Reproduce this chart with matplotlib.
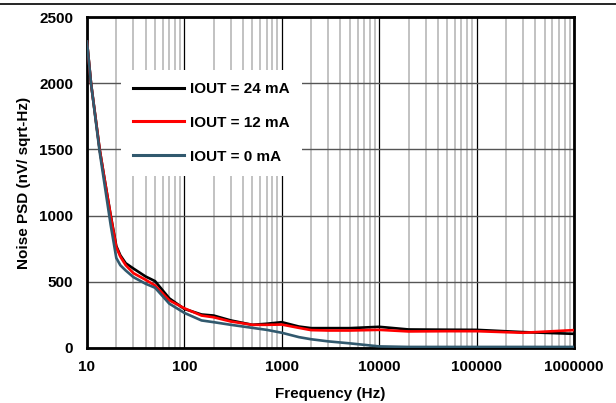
import matplotlib
matplotlib.use("Agg")
import matplotlib.pyplot as plt
from matplotlib.lines import Line2D
from matplotlib.ticker import FixedLocator, LogLocator, NullFormatter

plt.rcParams['font.family'] = ['Liberation Sans', 'DejaVu Sans']
plt.rcParams['font.weight'] = 'bold'

# frequency points (Hz) and noise PSD (nV/sqrt-Hz)
freq = [10, 11, 13.5, 15, 17.5, 20, 22, 25, 30, 40, 50, 70, 100, 150, 200, 300, 500, 700,
        1000, 1500, 2000, 3000, 5000, 10000, 20000, 50000, 100000, 300000, 1000000]
psd_24ma = [2315, 2000, 1500, 1295, 1005, 770, 700, 640, 600, 540, 505, 375, 295, 253, 245,
            208, 175, 183, 195, 162, 150, 150, 150, 160, 140, 138, 137, 120, 107]
psd_12ma = [2315, 2000, 1500, 1295, 1000, 760, 690, 625, 565, 515, 472, 360, 300, 245, 232,
            200, 175, 175, 177, 152, 135, 132, 132, 137, 125, 127, 127, 115, 135]
psd_0ma = [2315, 2000, 1480, 1257, 930, 680, 625, 585, 535, 485, 455, 335, 265, 208, 195,
           175, 152, 137, 115, 82, 66, 50, 35, 12, 8, 8, 8, 8, 8]

labels = ['IOUT = 24 mA', 'IOUT = 12 mA', 'IOUT = 0 mA']
colors = ['#000000', '#FF0000', '#31596E']
x_ticks = [10, 100, 1000, 10000, 100000, 1000000]
y_ticks = [0, 500, 1000, 1500, 2000, 2500]

fig = plt.figure(figsize=(6.16, 4.03), dpi=100)
ax = fig.add_axes([0.1412, 0.1365, 0.7906, 0.8213])

for y, lab, c in zip([psd_24ma, psd_12ma, psd_0ma], labels, colors):
    ax.plot(freq, y, color=c, lw=1.9, label=lab, zorder=3)

ax.set_xscale('log')
ax.set_xlim(10, 1000000)
ax.set_ylim(0, 2500)
ax.xaxis.set_major_locator(FixedLocator(x_ticks))
ax.set_xticklabels([str(t) for t in x_ticks])
ax.xaxis.set_minor_locator(LogLocator(base=10, subs=range(2, 10)))
ax.xaxis.set_minor_formatter(NullFormatter())
ax.set_yticks(y_ticks)

ax.grid(which='major', axis='x', color='black', lw=0.9)
ax.grid(which='minor', axis='x', color='#BDBDBD', lw=1.3)
ax.grid(which='major', axis='y', color='#555555', lw=1.0)
ax.set_axisbelow(True)

for s in ax.spines.values():
    s.set_linewidth(2)
ax.tick_params(which='both', length=0, labelsize=11)
ax.tick_params(axis='x', pad=9)
ax.tick_params(axis='y', pad=10)

ax.set_xlabel('Frequency (Hz)', fontsize=11, fontweight='bold', labelpad=9)
ax.set_ylabel('Noise PSD (nV/ sqrt-Hz)', fontsize=11, fontweight='bold', labelpad=6)

leg = ax.legend(loc='upper left', bbox_to_anchor=(0.07, 0.841), frameon=True,
                fancybox=False, edgecolor='white', framealpha=1, fontsize=11,
                handlelength=3.3, handletextpad=0.4, labelspacing=1.3,
                borderpad=0.8, borderaxespad=0)
leg.get_frame().set_linewidth(0)
for line in leg.get_lines():
    line.set_linewidth(2.2)

# thin rule along the top edge of the picture
fig.add_artist(Line2D([0, 1], [0.991, 0.991], color='black', lw=1.2,
                      transform=fig.transFigure))

fig.savefig('out.png', dpi=100)
